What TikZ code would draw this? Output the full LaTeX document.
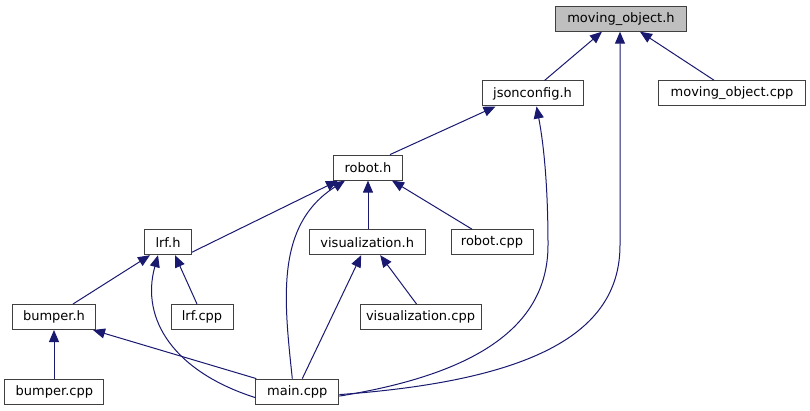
\documentclass[tikz,border=0pt]{standalone}
\usepackage{fontspec}
\setmainfont{DejaVu Sans}
\usetikzlibrary{arrows.meta}
\definecolor{edgeblue}{HTML}{191970}
\definecolor{curgray}{HTML}{BFBFBF}
\begin{document}
\begin{tikzpicture}[x=1pt,y=-1pt,
  box/.style={draw=black!75, line width=1pt, fill=white, minimum height=25pt, inner sep=0pt, font=\fontsize{13}{15}\selectfont},
  dep/.style={draw=edgeblue, line width=1pt, -{Triangle[length=12pt,width=10pt]}}]
\useasboundingbox (0,0) rectangle (810,411);
\node[box, fill=curgray, minimum width=131pt] (mo) at (621,18.7) {moving\_object.h};
\node[box, minimum width=101pt] (json) at (532.5,93.5) {jsonconfig.h};
\node[box, minimum width=147pt] (mocpp) at (732,93.2) {moving\_object.cpp};
\node[box, minimum width=69pt] (robot) at (368,167.6) {robot.h};
\node[box, minimum width=47pt] (lrf) at (168,242.2) {lrf.h};
\node[box, minimum width=116pt] (vis) at (367.2,242.2) {visualization.h};
\node[box, minimum width=82pt] (robotcpp) at (492,242.2) {robot.cpp};
\node[box, minimum width=83pt] (bumper) at (54,317) {bumper.h};
\node[box, minimum width=62pt] (lrfcpp) at (202,317) {lrf.cpp};
\node[box, minimum width=121pt] (viscpp) at (420.5,317) {visualization.cpp};
\node[box, minimum width=99pt] (bumpercpp) at (54.4,391.6) {bumper.cpp};
\node[box, minimum width=83pt] (main) at (297.3,391.6) {main.cpp};

\draw[dep] ([xshift=12pt]json.north) -- ([xshift=-19pt]mo.south);
\draw[dep] ([xshift=-18pt]mocpp.north) -- ([xshift=19pt]mo.south);
\draw[dep] ([yshift=-3pt]main.east) .. controls (540,380) and (620,330) .. (620,245) -- ([xshift=-1pt]mo.south);
\draw[dep] ([xshift=22pt]robot.north) -- ([xshift=-37pt]json.south);
\draw[dep] ([yshift=-4.5pt]main.east) .. controls (470,375) and (548,330) .. (548,245) .. controls (548,175) and (542,135) .. ([xshift=4pt]json.south);
\draw[dep] ([yshift=-10pt]lrf.east) -- ([xshift=-30pt]robot.south);
\draw[dep] ([xshift=-5pt]main.north) .. controls (284,300) and (275,225) .. ([xshift=-23pt]robot.south);
\draw[dep] (vis.north -| robot.south) -- (robot.south);
\draw[dep] ([xshift=-20pt]robotcpp.north) -- ([xshift=24pt]robot.south);
\draw[dep] ([xshift=19pt]bumper.north) -- ([xshift=-18pt]lrf.south);
\draw[dep] ([yshift=-6pt]main.west) .. controls (175,372) and (140,320) .. ([xshift=-10pt]lrf.south);
\draw[dep] ([xshift=-5pt]lrfcpp.north) -- ([xshift=7pt]lrf.south);
\draw[dep] ([xshift=5pt]main.north) -- ([xshift=-6pt]vis.south);
\draw[dep] ([xshift=-4pt]viscpp.north) -- ([xshift=13pt]vis.south);
\draw[dep] ([xshift=-41pt]main.north) -- ([xshift=39pt]bumper.south);
\draw[dep] (bumpercpp.north -| bumper.south) -- (bumper.south);
\end{tikzpicture}
\end{document}
